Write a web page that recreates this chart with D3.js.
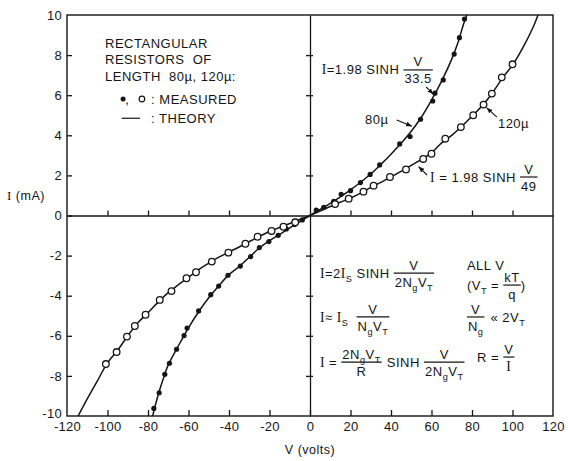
<!DOCTYPE html>
<html>
<head>
<style>
body { margin: 0; background: #fff; }
svg text { font-family: "Liberation Sans", Arial, sans-serif; fill: #151515; white-space: pre; }
.frame { fill: none; stroke: #151515; stroke-width: 1.4px; }
.axis path, .axis line { stroke: #151515; stroke-width: 1.3px; }
.curve { fill: none; stroke: #151515; stroke-width: 1.5px; }
</style>
</head>
<body>
<div id="chart"></div>
<script src="https://cdn.jsdelivr.net/npm/d3@7"></script>
<script>
// measured points, 80 micron resistor (filled dots)
var v80 = [-77.1, -74.5, -71.7, -69.4, -65.9, -62.2, -60.7, -55.0, -49.0, -45.1, -40.5, -34.4, -29.3, -25.0, -20.3, -15.7, -11.7, -7.6, -3.8,
           3.1, 6.8, 11.7, 15.4, 20.0, 24.9, 29.7, 34.4, 44.3, 49.4, 54.6, 60.6, 61.7, 65.8, 71.2, 73.8, 76.3];
var i80 = [-9.62, -8.84, -7.92, -7.37, -6.67, -5.99, -5.61, -4.76, -3.95, -3.52, -2.98, -2.52, -2.05, -1.60, -1.30, -0.99, -0.67, -0.45, -0.22,
           0.27, 0.41, 0.71, 1.06, 1.24, 1.64, 2.05, 2.52, 3.57, 3.94, 4.80, 5.71, 6.10, 6.76, 8.05, 8.87, 9.80];

// measured points, 120 micron resistor (open circles)
var v120 = [-100.8, -95.5, -90.4, -86.5, -81.2, -74.2, -68.4, -61.0, -56.3, -48.5, -40.3, -31.9, -25.9, -19.0, -13.1, -7.3,
            12.4, 19.1, 26.4, 31.4, 39.5, 47.4, 55.9, 60.0, 66.8, 74.5, 80.6, 85.7, 89.8, 94.7, 100.0];
var i120 = [-7.41, -6.81, -6.04, -5.51, -4.95, -4.21, -3.77, -3.13, -2.83, -2.30, -1.85, -1.41, -1.06, -0.77, -0.56, -0.34,
            0.57, 0.84, 1.19, 1.49, 1.92, 2.30, 2.82, 3.08, 3.83, 4.41, 5.00, 5.53, 6.08, 6.89, 7.54];

// theory curves as drawn
var tv80 = [-77.7, -75, -72, -70, -65, -60, -55, -50, -45, -40, -35, -30, -25, -20, -15, -10, -5, 0,
            5, 10, 15, 20, 25, 30, 35, 40, 45, 50, 55, 60, 65, 70, 73, 76, 77.5];
var ti80 = [-10, -8.95, -8.0, -7.45, -6.5, -5.6, -4.8, -4.1, -3.5, -2.95, -2.55, -2.08, -1.62, -1.25, -0.95, -0.62, -0.3, 0,
            0.3, 0.6, 0.93, 1.28, 1.66, 2.07, 2.55, 3.06, 3.6, 4.2, 4.9, 5.75, 6.7, 7.8, 8.6, 9.6, 10];
var tv120 = [-114.5, -110, -105, -100, -95, -90, -85, -80, -75, -70, -65, -60, -55, -50, -45, -40, -35, -30, -25, -20, -15, -10, -5, 0,
             5, 10, 15, 20, 25, 30, 35, 40, 45, 50, 55, 60, 65, 70, 75, 80, 85, 90, 95, 100, 105, 110, 112.6];
var ti120 = [-10, -9.15, -8.25, -7.35, -6.72, -6.0, -5.35, -4.85, -4.32, -3.85, -3.45, -3.08, -2.7, -2.38, -2.08, -1.82, -1.57, -1.3, -1.04, -0.8, -0.6, -0.4, -0.2, 0,
             0.22, 0.45, 0.66, 0.87, 1.12, 1.4, 1.65, 1.93, 2.2, 2.5, 2.8, 3.12, 3.62, 4.0, 4.45, 4.95, 5.47, 6.1, 6.85, 7.5, 8.35, 9.35, 10];

var xTicks = [-120, -100, -80, -60, -40, -20, 0, 20, 40, 60, 80, 100, 120];
var yTicks = [-10, -8, -6, -4, -2, 0, 2, 4, 6, 8, 10];

var margin = {top: 15, left: 67};
var width = 486, height = 401;

var svg = d3.select("#chart").append("svg")
    .attr("width", 568)
    .attr("height", 461);

var defs = svg.append("defs");
defs.append("marker")
    .attr("id", "arrow")
    .attr("viewBox", "0 0 10 10")
    .attr("refX", 10).attr("refY", 5)
    .attr("markerWidth", 6).attr("markerHeight", 6)
    .attr("markerUnits", "userSpaceOnUse")
    .attr("orient", "auto")
  .append("path")
    .attr("d", "M0,1L10,5L0,9Z")
    .attr("fill", "#151515");

var g = svg.append("g")
    .attr("transform", "translate(" + margin.left + "," + margin.top + ")");

var x = d3.scaleLinear().domain([-120, 120]).range([0, width]);
var y = d3.scaleLinear().domain([-10, 10]).range([height, 0]);

var fmt = function(d){ return d < 0 ? "-" + Math.abs(d) : String(d); };

// bottom axis, ticks pointing inside
var xa = g.append("g")
    .attr("class", "axis")
    .attr("transform", "translate(0," + height + ")")
    .call(d3.axisBottom(x).tickValues(xTicks).tickSize(-6).tickPadding(6).tickFormat(fmt));
xa.select(".domain").remove();
xa.selectAll(".tick line").filter(function(d){ return d === -120 || d === 120; }).remove();

// left axis, ticks pointing inside
var ya = g.append("g")
    .attr("class", "axis")
    .call(d3.axisLeft(y).tickValues(yTicks).tickSize(-5).tickPadding(5).tickFormat(fmt));
ya.select(".domain").remove();
ya.selectAll(".tick line").filter(function(d){ return d === -10 || d === 10; }).remove();
ya.selectAll(".tick text").filter(function(d){ return d === -10; }).attr("dy", "0.1em");

g.selectAll(".axis text")
    .attr("font-size", 13)
    .attr("font-family", "Liberation Sans")
    .attr("letter-spacing", 0.3)
    .attr("fill", "#151515");

// zero axes
g.append("g")
    .attr("class", "axis")
    .attr("transform", "translate(0," + y(0) + ")")
    .call(d3.axisTop(x).tickValues(xTicks.filter(function(d){ return d !== 0 && Math.abs(d) < 120; })).tickSize(5).tickSizeOuter(0).tickFormat(""));

var za = g.append("g")
    .attr("class", "axis")
    .attr("transform", "translate(" + x(0) + ",0)");
za.call(d3.axisLeft(y).tickValues(yTicks.filter(function(d){ return d !== 0 && Math.abs(d) < 10; })).tickSize(4).tickSizeOuter(0).tickFormat(""));
za.append("g").call(d3.axisRight(y).tickValues(yTicks.filter(function(d){ return d !== 0 && Math.abs(d) < 10; })).tickSize(3).tickSizeOuter(0).tickFormat(""))
    .attr("class", "axis").select(".domain").remove();

g.append("rect")
    .attr("class", "frame")
    .attr("width", width)
    .attr("height", height);

// theory curves
var line = d3.line()
    .x(function(d){ return x(d[0]); })
    .y(function(d){ return y(d[1]); })
    .curve(d3.curveCatmullRom.alpha(0.5));

g.append("path").attr("class", "curve").attr("d", line(d3.zip(tv80, ti80)));
g.append("path").attr("class", "curve").attr("d", line(d3.zip(tv120, ti120)));

// measured points
g.selectAll("circle.p80")
    .data(d3.zip(v80, i80))
  .enter().append("circle")
    .attr("class", "p80")
    .attr("cx", function(d){ return x(d[0]); })
    .attr("cy", function(d){ return y(d[1]); })
    .attr("r", 2.6)
    .attr("fill", "#151515");

g.selectAll("circle.p120")
    .data(d3.zip(v120, i120))
  .enter().append("circle")
    .attr("class", "p120")
    .attr("cx", function(d){ return x(d[0]); })
    .attr("cy", function(d){ return y(d[1]); })
    .attr("r", 3.3)
    .attr("fill", "#fff")
    .attr("stroke", "#151515")
    .attr("stroke-width", 1.3);

// text helpers: "_x" -> subscript, "|" -> serif capital I
function rich(sel, str, size) {
  var t = sel.append("text").attr("font-size", size).attr("dy", "0.35em").attr("letter-spacing", 0.5);
  var shift = 0, run = "";
  function flush() {
    if (!run) return;
    var ts = t.append("tspan").text(run);
    if (shift) { ts.attr("dy", -shift); shift = 0; }
    run = "";
  }
  for (var k = 0; k < str.length; k++) {
    var ch = str[k];
    if (ch === "_") {
      flush();
      k++;
      t.append("tspan").attr("font-size", size * 0.7).attr("dy", 4 - shift).text(str[k]);
      shift = 4;
    } else if (ch === "|") {
      flush();
      var ts = t.append("tspan").attr("font-family", "Liberation Serif").attr("font-size", size * 1.05).text("I");
      if (shift) { ts.attr("dy", -shift); shift = 0; }
    } else {
      run += ch;
    }
  }
  flush();
  return t;
}

function formula(v, i, parts, size, gap) {
  size = size || 13;
  gap = gap === undefined ? 2 : gap;
  var cx = x(v), yc = y(i);
  parts.forEach(function(p){
    if (typeof p === "string") {
      var t = rich(g, p, size).attr("x", cx).attr("y", yc);
      cx += t.node().getBBox().width;
    } else {
      var n = rich(g, p.n, size).attr("y", yc - 8).attr("text-anchor", "middle");
      var d = rich(g, p.d, size).attr("y", yc + 9).attr("text-anchor", "middle");
      var w = Math.max(n.node().getBBox().width, d.node().getBBox().width) + 2;
      n.attr("x", cx + w / 2);
      d.attr("x", cx + w / 2);
      g.append("line")
          .attr("x1", cx).attr("x2", cx + w)
          .attr("y1", yc).attr("y2", yc)
          .attr("stroke", "#151515").attr("stroke-width", 1.2);
      cx += w + gap;
    }
  });
}

function leader(v1, i1, v2, i2) {
  g.append("line")
      .attr("x1", x(v1)).attr("y1", y(i1))
      .attr("x2", x(v2)).attr("y2", y(i2))
      .attr("stroke", "#151515").attr("stroke-width", 1.1)
      .attr("marker-end", "url(#arrow)");
}

// legend block
formula(-101.2, 8.59, ["RECTANGULAR"]);
formula(-101.2, 7.76, ["RESISTORS  OF"]);
formula(-101.2, 6.96, ["LENGTH  80\u00b5, 120\u00b5:"]);
g.append("circle").attr("cx", x(-92.3)).attr("cy", y(5.81)).attr("r", 2.5).attr("fill", "#151515");
formula(-91.2, 5.81, [","]);
g.append("circle").attr("cx", x(-83)).attr("cy", y(5.81)).attr("r", 2.8).attr("fill", "#fff").attr("stroke", "#151515").attr("stroke-width", 1.2);
formula(-80.5, 5.81, [" : MEASURED"]);
g.append("line").attr("x1", x(-93)).attr("x2", x(-84)).attr("y1", y(4.85)).attr("y2", y(4.85)).attr("stroke", "#151515").attr("stroke-width", 1.2);
formula(-80.5, 4.85, [" : THEORY"]);

// curve labels
formula(5.8, 7.26, ["|=1.98 SINH ", {n: "V", d: "33.5"}]);
leader(57.3, 6.42, 60.9, 6.05);
formula(27.2, 4.81, ["80\u00b5"]);
leader(42.8, 4.76, 50.4, 4.45);
formula(92.8, 4.61, ["120\u00b5"]);
leader(92.3, 4.91, 87.2, 5.38);
formula(59.3, 1.92, ["| = 1.98 SINH ", {n: "V", d: "49"}]);
leader(57.8, 2.02, 53.6, 2.44);

// relations
formula(4.9, -2.87, ["|=2|_S SINH ", {n: "V", d: "2N_gV_T"}]);
formula(77.5, -2.47, ["ALL V"]);
formula(77.5, -3.47, ["(V_T = ", {n: "kT", d: "q"}, ")"], 13, 0);
formula(4.9, -5.06, ["|\u2248 |_S  ", {n: "V", d: "N_gV_T"}]);
formula(77.5, -5.06, [{n: "V", d: "N_g"}, " \u00ab 2V_T"]);
formula(4.9, -7.31, ["| = ", {n: "2N_gV_T", d: "R"}, " SINH ", {n: "V", d: "2N_gV_T"}], 13, 1);
formula(82.5, -7.06, ["R = ", {n: "V", d: "|"}]);

// axis titles
rich(svg, "| (mA)", 12.5).attr("x", 7).attr("y", 196);
rich(svg, "V (volts)", 12.5).attr("x", 310).attr("y", 450).attr("text-anchor", "middle");
</script>
</body>
</html>
